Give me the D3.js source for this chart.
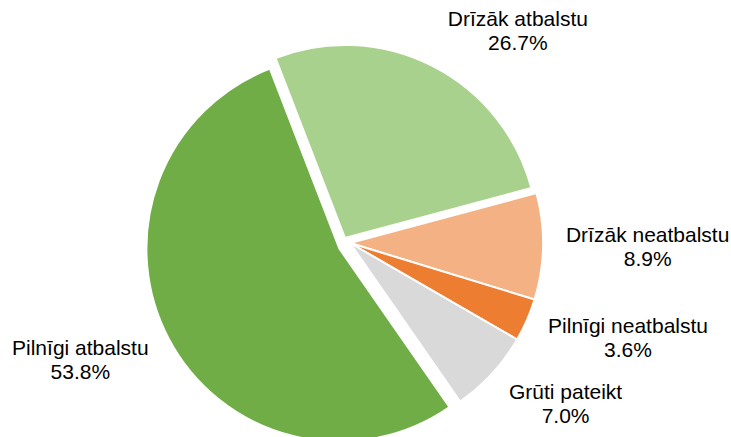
<!DOCTYPE html>
<html>
<head>
	<meta charset="utf-8">
	<title>Pie</title>
	<script src="https://d3js.org/d3.v7.min.js"></script>
	<style>
		body { margin: 0; background: #fff; }
		text { font-family: Arial, 'Liberation Sans', sans-serif; }
	</style>
</head>
<body>
	<div class="chart"></div>

	<script type="text/javascript">

		// categories and values (%)
		const labels = ['Pilnīgi atbalstu', 'Drīzāk atbalstu', 'Drīzāk neatbalstu', 'Pilnīgi neatbalstu', 'Grūti pateikt']
		const values = [53.8, 26.7, 8.9, 3.6, 7.0]
		const colors = ['#70ad47', '#a9d18e', '#f4b183', '#ed7d31', '#d9d9d9']
		// explosion of each slice along its bisector, px
		const explode = [12, 0, 0, 0, 0]
		// small extra shift of a slice as in the original
		const nudge = [[0, 0], [-5, -5], [0, 0], [0, 0], [0, 0]]

		var width = 731
		var height = 437
		var cx = 350
		var cy = 243
		var radius = 193

		var svg = d3
			.select('.chart')
			.append('svg')
			.attr('width', width)
			.attr('height', height)

		var chart = svg.append('g').attr('transform', `translate(${cx}, ${cy})`)

		const startDeg = 145.2
		const pie = d3
			.pie()
			.sort(null)
			.startAngle(startDeg * Math.PI / 180)
			.endAngle(startDeg * Math.PI / 180 + Math.PI * 2)
			.value((d) => d.value)

		const arc = d3.arc().innerRadius(0).outerRadius(radius)

		const data = labels.map((name, i) => ({ name, value: values[i], color: colors[i], explode: explode[i], nudge: nudge[i] }))
		const arcs = pie(data)

		function mid(d) {
			return (d.startAngle + d.endAngle) / 2
		}

		// slices
		chart
			.append('g')
			.selectAll('path')
			.data(arcs)
			.enter()
			.append('path')
			.attr('transform', (d) => {
				const a = mid(d)
				const dx = Math.sin(a) * d.data.explode + d.data.nudge[0]
				const dy = -Math.cos(a) * d.data.explode + d.data.nudge[1]
				return `translate(${dx}, ${dy})`
			})
			.attr('d', arc)
			.attr('fill', (d) => d.data.color)
			.attr('stroke', '#fff')
			.attr('stroke-width', 2)
			.attr('stroke-linejoin', 'round')

		// labels outside the end
		const fontSize = 21
		const lineH = 24
		const labelR = radius + 23

		const lbl = chart
			.append('g')
			.selectAll('text')
			.data(arcs)
			.enter()
			.append('text')
			.attr('font-size', fontSize)
			.attr('fill', '#000')
			.attr('text-anchor', 'middle')

		lbl.append('tspan').attr('class', 'l1').text((d) => d.data.name)
		lbl.append('tspan').attr('class', 'l2').text((d) => d3.format('.1f')(d.data.value) + '%')

		lbl.each(function (d) {
			const t = d3.select(this)
			const w = Math.max(
				t.select('.l1').node().getComputedTextLength(),
				t.select('.l2').node().getComputedTextLength()
			)
			const a = mid(d)
			const r = labelR + d.data.explode
			const px = Math.sin(a) * r
			const py = -Math.cos(a) * r
			const x = Math.sin(a) >= 0 ? px + w / 2 : px - w / 2
			const centerY = py - Math.cos(a) * 22
			const top = centerY - 20
			t.select('.l1').attr('x', x).attr('y', top + 15)
			t.select('.l2').attr('x', x).attr('y', top + 15 + lineH)
		})

	</script>
</body>
</html>
